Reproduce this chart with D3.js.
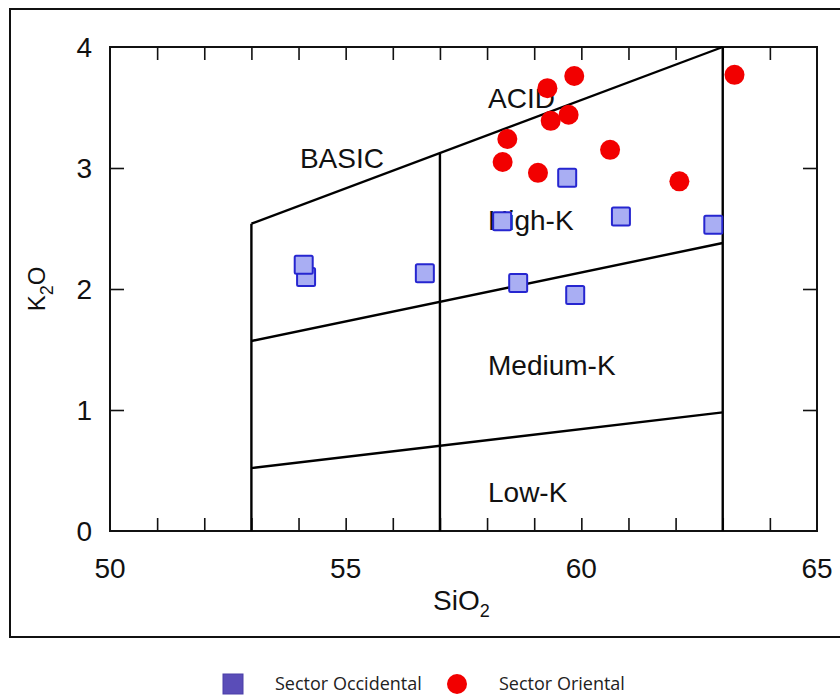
<!DOCTYPE html>
<html lang="en">
<head>
    <meta charset="UTF-8">
    <title>K2O vs SiO2</title>
    <script src="https://d3js.org/d3.v7.min.js"></script>
    <style>
        body { margin: 0; background: #fff; font-family: 'Liberation Sans', Arial, sans-serif; }
        svg { display: block; }
    </style>
</head>
<body>
    <svg id="viz" width="840" height="696"></svg>

    <script>
        // sample values
        const occidentalSiO2 = [59.70, 58.32, 60.84, 62.80, 58.66, 59.87, 56.68, 54.16, 54.11];
        const occidentalK2O  = [2.92, 2.56, 2.60, 2.53, 2.05, 1.95, 2.13, 2.10, 2.20];

        const orientalSiO2 = [59.85, 59.28, 63.25, 59.73, 59.35, 58.43, 58.33, 60.61, 59.08, 62.08];
        const orientalK2O  = [3.76, 3.66, 3.77, 3.44, 3.39, 3.24, 3.05, 3.15, 2.96, 2.89];

        // field boundaries (SiO2, K2O)
        const boundaries = [
            [[53, 2.54], [63, 4.0]],
            [[53, 1.57], [63, 2.38]],
            [[53, 0.52], [63, 0.98]],
            [[53, 0], [53, 2.54]],
            [[57, 0], [57, 3.124]],
            [[63, 0], [63, 4.0]]
        ];

        const fieldLabels = [
            { text: "BASIC", x: 54.03, y: 3.0 },
            { text: "ACID", x: 58.02, y: 3.50 },
            { text: "High-K", x: 58.02, y: 2.49 },
            { text: "Medium-K", x: 58.02, y: 1.29 },
            { text: "Low-K", x: 58.02, y: 0.24 }
        ];

        const xTickLabels = [50, 55, 60, 65];
        const yTickLabels = [0, 1, 2, 3, 4];
        const seriesNames = ["Sector Occidental", "Sector Oriental"];

        const svg = d3.select("#viz");
        const m = { left: 110, right: 817, top: 47, bottom: 531 };

        const x = d3.scaleLinear().domain([50, 65]).range([m.left, m.right]);
        const y = d3.scaleLinear().domain([0, 4]).range([m.bottom, m.top]);

        // outer frame (open on the right side)
        svg.append("rect")
            .attr("x", 10).attr("y", 9)
            .attr("width", 860).attr("height", 628)
            .attr("fill", "none").attr("stroke", "#111").attr("stroke-width", 2);

        // inward ticks on all four sides
        const tickSize = 13;
        const minorX = d3.range(51, 65, 1);
        svg.append("g").attr("transform", `translate(0,${m.bottom})`)
            .call(d3.axisTop(x).tickValues(minorX).tickSize(tickSize).tickFormat(""));
        svg.append("g").attr("transform", `translate(0,${m.top})`)
            .call(d3.axisBottom(x).tickValues(minorX).tickSize(tickSize).tickFormat(""));
        svg.append("g").attr("transform", `translate(${m.left},0)`)
            .call(d3.axisRight(y).tickValues([1, 2, 3]).tickSize(tickSize + 1).tickFormat(""));
        svg.append("g").attr("transform", `translate(${m.right},0)`)
            .call(d3.axisLeft(y).tickValues([1, 2, 3]).tickSize(tickSize + 1).tickFormat(""));
        svg.selectAll(".domain").remove();
        svg.selectAll(".tick line").attr("stroke", "#111").attr("stroke-width", 1.6);

        svg.append("rect")
            .attr("x", m.left).attr("y", m.top)
            .attr("width", m.right - m.left).attr("height", m.bottom - m.top)
            .attr("fill", "none").attr("stroke", "#111").attr("stroke-width", 2);

        // tick labels
        svg.selectAll(".xlab").data(xTickLabels).enter().append("text")
            .attr("x", d => x(d)).attr("y", m.bottom + 47)
            .attr("text-anchor", "middle")
            .attr("font-size", 28).attr("fill", "#111")
            .text(d => d);

        svg.selectAll(".ylab").data(yTickLabels).enter().append("text")
            .attr("x", m.left - 18).attr("y", d => y(d))
            .attr("dy", "0.36em")
            .attr("text-anchor", "end")
            .attr("font-size", 28).attr("fill", "#111")
            .text(d => d);

        // axis titles
        const xt = svg.append("text")
            .attr("x", 433).attr("y", 610)
            .attr("font-size", 28).attr("fill", "#111");
        xt.append("tspan").text("SiO");
        xt.append("tspan").attr("dy", 7).attr("font-size", 18).text("2");

        const yt = svg.append("text")
            .attr("transform", `translate(45,${(m.top + m.bottom) / 2}) rotate(-90)`)
            .attr("text-anchor", "middle")
            .attr("font-size", 24).attr("fill", "#111");
        yt.append("tspan").text("K");
        yt.append("tspan").attr("dy", 8).attr("font-size", 18).text("2");
        yt.append("tspan").attr("dy", -8).text("O");

        // field boundaries
        const line = d3.line().x(d => x(d[0])).y(d => y(d[1]));
        svg.selectAll(".boundary").data(boundaries).enter().append("path")
            .attr("d", line)
            .attr("fill", "none").attr("stroke", "#000").attr("stroke-width", 2.4);

        // field labels
        svg.selectAll(".field").data(fieldLabels).enter().append("text")
            .attr("x", d => x(d.x)).attr("y", d => y(d.y))
            .attr("font-size", 28).attr("fill", "#111")
            .text(d => d.text);

        // points
        const occ = occidentalSiO2.map((s, i) => [s, occidentalK2O[i]]);
        const ori = orientalSiO2.map((s, i) => [s, orientalK2O[i]]);

        svg.selectAll(".ori").data(ori).enter().append("circle")
            .attr("cx", d => x(d[0])).attr("cy", d => y(d[1]))
            .attr("r", 10).attr("fill", "#f20000");

        const sq = 18;
        svg.selectAll(".occ").data(occ).enter().append("rect")
            .attr("x", d => x(d[0]) - sq / 2).attr("y", d => y(d[1]) - sq / 2)
            .attr("width", sq).attr("height", sq).attr("rx", 1.5)
            .attr("fill", "#a9aef3").attr("stroke", "#2626d0").attr("stroke-width", 2);

        // legend
        const lg = svg.append("g").attr("font-family", "'Open Sans', sans-serif")
            .attr("font-size", 18).attr("fill", "#222");
        lg.append("rect").attr("x", 223).attr("y", 674).attr("width", 20).attr("height", 20)
            .attr("fill", "#5a4db8").attr("stroke", "#4a3fa8").attr("stroke-width", 1);
        lg.append("text").attr("x", 275).attr("y", 690).text(seriesNames[0]);
        lg.append("circle").attr("cx", 457).attr("cy", 684).attr("r", 10).attr("fill", "#f20000");
        lg.append("text").attr("x", 499).attr("y", 690).text(seriesNames[1]);
    </script>
</body>
</html>
